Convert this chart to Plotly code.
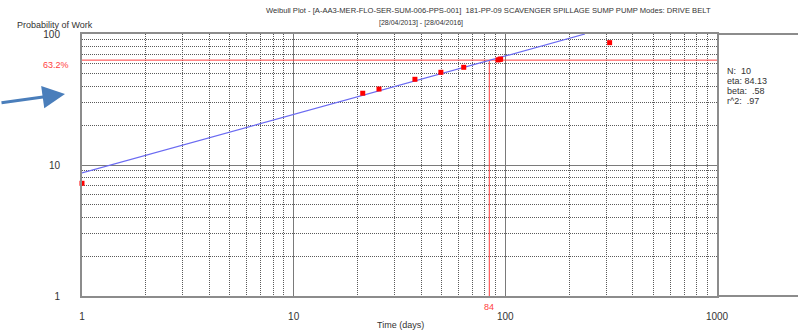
import math
import plotly.graph_objects as go

# ---- data ----
time_days = [1, 21.2, 25.3, 37.4, 49.6, 63.6, 92.3, 94.3, 95.0, 311]
prob_work = [7.25, 35.3, 38.0, 45.1, 51.0, 55.7, 63.4, 64.1, 64.3, 85.9]
fit_t = [1, 237.7]
fit_p = [8.69, 100]
eta_val = 84
char_pct = 63.2
x_ticks = [1, 10, 100, 1000]
y_ticks = [1, 10, 100]
stats_lines = ["N:  10", "eta: 84.13", "beta:  .58", "r^2:  .97"]

FONT = "Liberation Sans, Arial, sans-serif"
L, R, T, B = 82, 81, 34, 37
W, H = 798, 333
pw = W - L - R
ph = H - T - B

def px_x(p):
    return (p - L) / pw

def px_y(p):
    return (H - B - p) / ph

fig = go.Figure()

# red characteristic-life lines
fig.add_trace(go.Scatter(x=[x_ticks[0], x_ticks[-1]], y=[char_pct, char_pct], mode="lines",
                         line=dict(color="#ff3b3b", width=1), hoverinfo="skip", showlegend=False))
fig.add_trace(go.Scatter(x=[eta_val, eta_val], y=[y_ticks[0], char_pct], mode="lines",
                         line=dict(color="#ff3b3b", width=1), hoverinfo="skip", showlegend=False))
# fit line
fig.add_trace(go.Scatter(x=fit_t, y=fit_p, mode="lines",
                         line=dict(color="#6a6af2", width=1.2), showlegend=False))
# data points
fig.add_trace(go.Scatter(x=time_days, y=prob_work, mode="markers",
                         marker=dict(symbol="square", size=5, color="#ff0000"),
                         cliponaxis=False, showlegend=False))

grid_minor = dict(showgrid=True, dtick="D1", gridcolor="#5a5a5a", griddash="1px,1px",
                  gridwidth=1, ticks="")

fig.update_xaxes(type="log", range=[0, 3], tickmode="array", tickvals=x_ticks,
                 ticktext=[str(v) for v in x_ticks],
                 showgrid=True, gridcolor="#7a7a7a", gridwidth=1,
                 minor=grid_minor,
                 showline=True, linecolor="#8c8c8c", linewidth=2, mirror=True,
                 ticks="outside", ticklen=10, tickcolor="rgba(0,0,0,0)",
                 tickfont=dict(family=FONT, size=10, color="#333333"),
                 zeroline=False)
fig.update_yaxes(type="log", range=[0, 2], tickmode="array", tickvals=y_ticks,
                 ticktext=[str(v) for v in y_ticks],
                 showgrid=True, gridcolor="#7a7a7a", gridwidth=1,
                 minor=grid_minor,
                 showline=True, linecolor="#8c8c8c", linewidth=2, mirror=True,
                 ticks="outside", ticklen=18, tickcolor="rgba(0,0,0,0)",
                 tickfont=dict(family=FONT, size=10, color="#333333"),
                 zeroline=False)

shapes = [
    dict(type="line", xref="paper", yref="paper", x0=1, x1=px_x(W), y0=1, y1=1,
         line=dict(color="#8c8c8c", width=2)),
    dict(type="line", xref="paper", yref="paper", x0=1, x1=px_x(W), y0=0, y1=0,
         line=dict(color="#8c8c8c", width=2)),
]

ann = [
    dict(text="Weibull Plot - [A-AA3-MER-FLO-SER-SUM-006-PPS-001]  181-PP-09 SCAVENGER SPILLAGE SUMP PUMP Modes: DRIVE BELT",
         xref="paper", yref="paper", x=px_x(488), y=px_y(10), showarrow=False,
         font=dict(family=FONT, size=7.6, color="#333333"), xanchor="center", yanchor="middle"),
    dict(text="[28/04/2013] - [28/04/2016]", xref="paper", yref="paper",
         x=px_x(421), y=px_y(23), showarrow=False,
         font=dict(family=FONT, size=7, color="#333333"), xanchor="center", yanchor="middle"),
    dict(text="Probability of Work", xref="paper", yref="paper", x=px_x(55), y=px_y(25),
         showarrow=False, font=dict(family=FONT, size=9, color="#333333"),
         xanchor="center", yanchor="middle"),
    dict(text="Time (days)", xref="paper", yref="paper", x=px_x(400), y=px_y(325),
         showarrow=False, font=dict(family=FONT, size=9, color="#333333"),
         xanchor="center", yanchor="middle"),
    dict(text=f"{char_pct}%", xref="paper", yref="paper", x=px_x(56), y=px_y(65),
         showarrow=False, font=dict(family=FONT, size=9, color="#ff4040"),
         xanchor="center", yanchor="middle"),
    dict(text=str(eta_val), xref="x", yref="paper", x=math.log10(eta_val),
         y=px_y(307), showarrow=False, font=dict(family=FONT, size=9, color="#ff4040"),
         xanchor="center", yanchor="middle"),
    dict(text="", xref="paper", yref="paper", x=px_x(65), y=px_y(94),
         ax=-65, ay=9, axref="pixel", ayref="pixel", showarrow=True,
         arrowhead=2, arrowsize=1.5, arrowwidth=3, arrowcolor="#4a7ebb"),
]
for i, s in enumerate(stats_lines):
    ann.append(dict(text=s, xref="paper", yref="paper", x=px_x(725), y=px_y(71 + 10 * i),
                    showarrow=False, font=dict(family=FONT, size=9, color="#333333"),
                    xanchor="left", yanchor="middle"))

fig.update_layout(width=W, height=H, margin=dict(l=L, r=R, t=T, b=B),
                  plot_bgcolor="white", paper_bgcolor="white",
                  shapes=shapes, annotations=ann, showlegend=False)

fig.write_html("out.html", config={"displayModeBar": False},
               post_script="document.body.style.margin='0';document.body.style.overflow='hidden';")
